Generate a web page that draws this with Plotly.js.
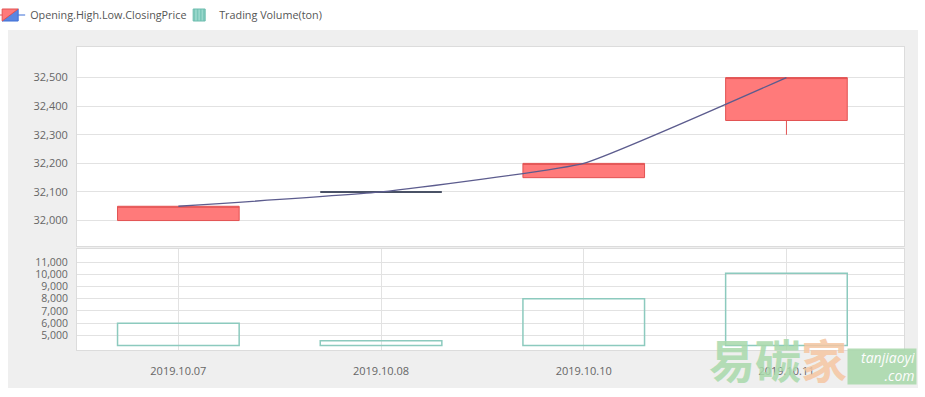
<!DOCTYPE html>
<html><head><meta charset="utf-8">
<script src="https://cdn.plot.ly/plotly-3.0.1.min.js"></script>
<style>html,body{margin:0;padding:0;background:#fff}#chart{width:925px;height:397px}</style>
</head><body><div id="chart"></div>
<script>
const dates = ['2019.10.07', '2019.10.08', '2019.10.10', '2019.10.11'];
const openPrice = [32000, 32100, 32150, 32350];
const highPrice = [32050, 32100, 32200, 32500];
const lowPrice = [32000, 32100, 32150, 32300];
const closePrice = [32050, 32100, 32200, 32500];
const volume = [6000, 4550, 8000, 10100];
const volumeBase = 4150;
const priceTicks = [32000, 32100, 32200, 32300, 32400, 32500];
const volumeTicks = [5000, 6000, 7000, 8000, 9000, 10000, 11000];

const flat = openPrice.map((o, i) => o === closePrice[i]);
const pick = (arr, keepFlat) => arr.map((v, i) => (flat[i] === keepFlat ? v : null));

const tickFont = {family: 'Open Sans, sans-serif', size: 11, color: '#666'};

const traces = [
  {
    type: 'candlestick', name: 'Opening.High.Low.ClosingPrice',
    x: dates, open: pick(openPrice, false), high: pick(highPrice, false),
    low: pick(lowPrice, false), close: pick(closePrice, false),
    xaxis: 'x', yaxis: 'y',
    increasing: {line: {color: '#e25252', width: 1}, fillcolor: '#ff7a7a'},
    decreasing: {line: {color: '#3d6fd6', width: 1}, fillcolor: '#5a86e0'},
    whiskerwidth: 0, hoverinfo: 'skip'
  },
  {
    type: 'candlestick', name: 'flat', showlegend: false,
    x: dates, open: pick(openPrice, true), high: pick(highPrice, true),
    low: pick(lowPrice, true), close: pick(closePrice, true),
    xaxis: 'x', yaxis: 'y',
    increasing: {line: {color: '#4a5266', width: 2}, fillcolor: '#4a5266'},
    decreasing: {line: {color: '#4a5266', width: 2}, fillcolor: '#4a5266'},
    whiskerwidth: 0, hoverinfo: 'skip'
  },
  {
    type: 'scatter', mode: 'lines', showlegend: false,
    x: dates, y: closePrice, xaxis: 'x', yaxis: 'y',
    line: {color: '#5c5c8e', width: 1.3, shape: 'spline', smoothing: 0.35},
    hoverinfo: 'skip'
  },
  {
    type: 'bar', name: 'Trading Volume(ton)', showlegend: false,
    x: dates, y: volume.map(v => v - volumeBase), base: volumeBase,
    xaxis: 'x2', yaxis: 'y2', width: 0.6,
    marker: {color: 'rgba(0,0,0,0)', line: {color: '#8ccabe', width: 1.5}},
    hoverinfo: 'skip'
  },
  {
    type: 'bar', name: 'Trading Volume(ton)', showlegend: true,
    x: dates, y: dates.map(() => null),
    xaxis: 'x2', yaxis: 'y2',
    marker: {color: '#8fd3c7', line: {color: '#6cbcae', width: 1},
      pattern: {shape: '|', fgcolor: '#66bcad', bgcolor: '#9ad8cc', size: 4, solidity: 0.3}},
    hoverinfo: 'skip'
  }
];

const layout = {
  width: 925, height: 397,
  margin: {l: 77, r: 21, t: 47, b: 47, autoexpand: false},
  paper_bgcolor: '#ffffff', plot_bgcolor: '#ffffff',
  font: {family: 'Open Sans, sans-serif', size: 11, color: '#555'},
  showlegend: true,
  legend: {orientation: 'h', xref: 'paper', yref: 'paper', x: -0.105, y: 1.1056,
    xanchor: 'left', yanchor: 'middle', font: {size: 10.8, color: '#555'},
    bgcolor: 'rgba(0,0,0,0)', itemwidth: 30, entrywidth: 144},
  barmode: 'overlay',
  boxgap: 0.4, boxgroupgap: 0,
  xaxis: {type: 'category', categoryorder: 'array', categoryarray: dates,
    range: [-0.5, 3.58], anchor: 'y', showticklabels: false, showgrid: false,
    showline: true, mirror: true, linecolor: '#dcdcdc', linewidth: 1,
    zeroline: false, fixedrange: true, rangeslider: {visible: false}},
  yaxis: {domain: [0.3432, 1], range: [31911, 32607], tickvals: priceTicks,
    tickformat: ',d', tickfont: tickFont, gridcolor: '#e2e2e2', zeroline: false,
    showline: true, mirror: true, linecolor: '#dcdcdc', ticks: '', ticklabelstandoff: 6},
  xaxis2: {type: 'category', categoryorder: 'array', categoryarray: dates,
    range: [-0.5, 3.58], anchor: 'y2', showgrid: true, gridcolor: '#e2e2e2',
    showline: true, mirror: true, linecolor: '#dcdcdc', zeroline: false,
    tickfont: tickFont, ticks: '', ticklabelstandoff: 11},
  yaxis2: {domain: [0, 0.3333], range: [3790, 12095], tickvals: volumeTicks,
    tickformat: ',d', tickfont: {family: 'Open Sans, sans-serif', size: 10.5, color: '#666'},
    gridcolor: '#e2e2e2', zeroline: false,
    showline: true, mirror: true, linecolor: '#dcdcdc', ticks: '', ticklabelstandoff: 6},
  shapes: [
    {type: 'rect', xref: 'paper', yref: 'paper', layer: 'below',
      x0: -0.0834, x1: 1.0169, y0: -0.1254, y1: 1.0561,
      fillcolor: '#efefef', line: {width: 0}},
    {type: 'rect', xref: 'paper', yref: 'paper', layer: 'below',
      x0: 0, x1: 1, y0: 0.3432, y1: 1, fillcolor: '#ffffff', line: {width: 0}},
    {type: 'rect', xref: 'paper', yref: 'paper', layer: 'below',
      x0: 0, x1: 1, y0: 0, y1: 0.3333, fillcolor: '#ffffff', line: {width: 0}}
  ],
  annotations: [
    {xref: 'paper', yref: 'paper', x: 0.7618, y: -0.027, xanchor: 'left', yanchor: 'middle',
      showarrow: false,
      text: '<span style="color:#a9d9ab">易碳</span><span style="color:#f5c6a2">家</span>',
      font: {family: 'Noto Sans CJK SC', size: 46, weight: 'bold'}, opacity: 0.85},
    {xref: 'paper', yref: 'paper', x: 0.9311, y: -0.0545, xanchor: 'left', yanchor: 'middle',
      showarrow: false, width: 66, height: 33,
      text: '<i>tanjiaoyi</i><br><i>.com</i>', bgcolor: '#abd9ad', borderpad: 1, align: 'right',
      font: {family: 'Open Sans, sans-serif', size: 14, color: '#ffffff'}, opacity: 0.9}
  ]
};

Plotly.newPlot('chart', traces, layout, {displayModeBar: false, staticPlot: true});
</script>
</body></html>
